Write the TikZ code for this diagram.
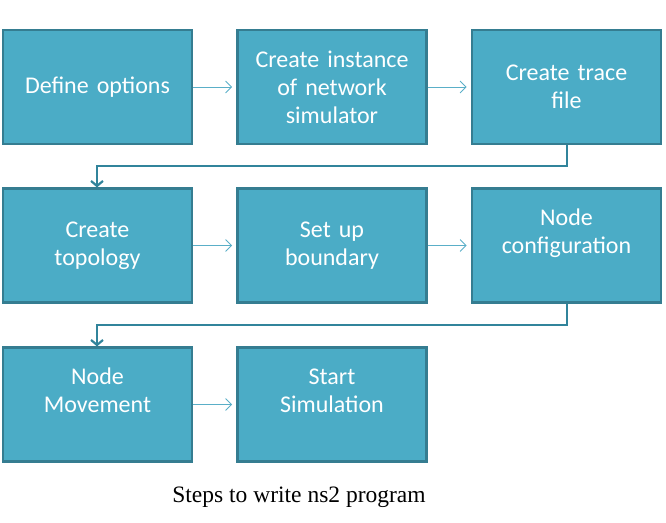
\documentclass[tikz,border=0pt]{standalone}
\usepackage{fontspec}
\setmainfont{Carlito}
\newfontfamily\capfont{Liberation Serif}
\usetikzlibrary{arrows.meta}
\definecolor{boxfill}{HTML}{4BACC6}
\definecolor{boxedge}{HTML}{357D91}
\definecolor{thinarrow}{HTML}{5AAFC8}
\definecolor{rowarrow}{HTML}{31849B}
\begin{document}
\begin{tikzpicture}[x=1pt,y=-1pt,
  stepbox/.style={draw=boxedge,fill=boxfill,line width=2.2pt,minimum width=189pt,minimum height=114pt,
    text=white,align=center,font=\fontsize{24}{28}\selectfont,inner sep=0pt,text width=186pt},
  thin/.style={draw=thinarrow,line width=0.8pt,-{Straight Barb[length=6pt,width=12pt,line width=0.8pt]}},
  rowlink/.style={draw=rowarrow,line width=2.2pt,-{Straight Barb[length=5pt,width=12pt,line width=2.2pt]}}]
\useasboundingbox (0,0) rectangle (666,522);
\node[stepbox] (a1) at (97.5,87) {Define options};
\node[stepbox] (a2) at (332,87) {Create instance\\of network\\simulator};
\node[stepbox] (a3) at (566.5,87) {Create trace\\file};
\node[stepbox] (b1) at (97.5,245.5) {Create\\topology};
\node[stepbox] (b2) at (332,245.5) {Set up\\boundary};
\node[stepbox] (b3) at (566.5,245.5) {Node\\configuration\\\mbox{}};
\node[stepbox] (c1) at (97.5,404.5) {Node\\Movement\\\mbox{}};
\node[stepbox] (c2) at (332,404.5) {Start\\Simulation\\\mbox{}};
\node[font=\capfont\fontsize{23.5}{28}\selectfont,anchor=base] (cap) at (299,502) {Steps to write ns2 program};
\draw[thin] (a1.east) -- ++(39,0);
\draw[thin] (a2.east) -- ++(39,0);
\draw[thin] (b1.east) -- ++(39,0);
\draw[thin] (b2.east) -- ++(39,0);
\draw[thin] (c1.east) -- ++(39,0);
\coordinate (r1) at (567,166);
\coordinate (r2) at (97,166);
\coordinate (s1) at (567,325);
\coordinate (s2) at (97,325);
\draw[rowlink] (a3.south -| r1) -- (r1) -- (r2) -- (b1.north -| r2);
\draw[rowlink] (b3.south -| s1) -- (s1) -- (s2) -- (c1.north -| s2);
\end{tikzpicture}
\end{document}
